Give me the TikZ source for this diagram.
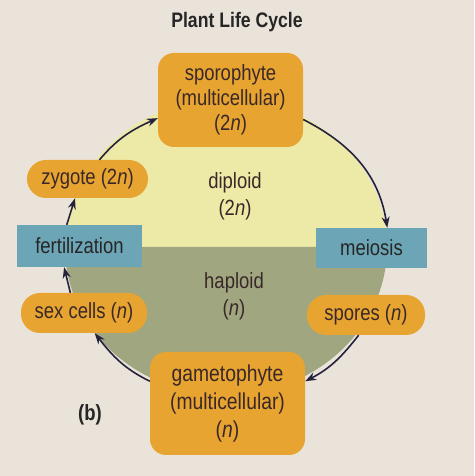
\documentclass[tikz,border=0pt]{standalone}
\usepackage{fontspec}
\setmainfont{Liberation Sans}[FakeStretch=0.84]
\usetikzlibrary{arrows.meta}
\definecolor{bgcream}{RGB}{234,227,218}
\definecolor{stageorange}{RGB}{231,164,48}
\definecolor{eventblue}{RGB}{108,165,181}
\definecolor{diploidfill}{RGB}{237,234,168}
\definecolor{haploidfill}{RGB}{160,166,128}
\definecolor{inkbrown}{RGB}{58,40,40}
\definecolor{arrowink}{RGB}{37,34,62}
\tikzset{
  lbl/.style={text=inkbrown, align=center, inner sep=0pt,
    font=\fontsize{22}{27}\selectfont},
  stage/.style={lbl, fill=stageorange, rounded corners=16pt},
  pill/.style={stage, rounded corners=19pt},
  event/.style={lbl, fill=eventblue, text=black!85},
  cyc/.style={-{Stealth[length=11pt,width=8pt]}, line width=1.6pt, draw=arrowink}
}
\begin{document}
\begin{tikzpicture}[x=1pt,y=1pt]
    \def\rx{161}
    \def\ry{148}
    \useasboundingbox (0,0) rectangle (474,476);
    \fill[bgcream] (0,0) rectangle (474,476);
    \coordinate (C) at (226,229);
    % the two halves of the cycle
    \fill[diploidfill] ([xshift=\rx pt]C) arc[start angle=0,end angle=180,x radius=\rx,y radius=\ry] -- cycle;
    \fill[haploidfill] ([xshift=\rx pt]C) arc[start angle=0,end angle=-180,x radius=\rx,y radius=\ry] -- cycle;
    \node[lbl, anchor=base, text=black!85, font=\bfseries\fontsize{21}{24}\selectfont] (title) at (237,448) {Plant Life Cycle};
    \node[lbl] (dip) at (235,279.5) {diploid\\(2\textit{n})};
    \node[lbl] (hap) at (234,180) {haploid\\(\textit{n})};
    \node[lbl, text=black!85, font=\bfseries\fontsize{22}{24}\selectfont] (b) at (90,61) {(b)};
    \node[stage, minimum width=145pt, minimum height=94pt, font=\fontsize{22}{25}\selectfont] (spor) at (230.5,376) {sporophyte\\(multicellular)\\(2\textit{n})};
    \node[pill, minimum width=121pt, minimum height=38pt] (zyg) at (87.5,297) {zygote (2\textit{n})};
    \node[event, minimum width=125pt, minimum height=42pt] (fert) at (79.5,230) {fertilization};
    \node[pill, minimum width=126pt, minimum height=40pt] (sex) at (84,163) {sex cells (\textit{n})};
    \node[event, minimum width=111pt, minimum height=40pt] (mei) at (371.5,228) {meiosis};
    \node[pill, minimum width=118pt, minimum height=40pt] (spo) at (366,161) {spores (\textit{n})};
    \node[stage, minimum width=155pt, minimum height=103pt, font=\fontsize{23}{28}\selectfont] (gam) at (227.5,72.5) {gametophyte\\(multicellular)\\(\textit{n})};
    \path (zyg.58) edge [cyc, out=50, in=204] (spor.194);
    \path (spor.-15) edge [cyc, out=-27, in=99] (mei.52);
    \path (spo.250) edge [cyc, out=232, in=27] (gam.16);
    \path (gam.164) edge [cyc, out=154, in=308] (sex.-62);
    \path (sex.124) edge [cyc] (fert.234);
    \path (fert.121) edge [cyc] (zyg.237);
  \end{tikzpicture}
\end{document}
